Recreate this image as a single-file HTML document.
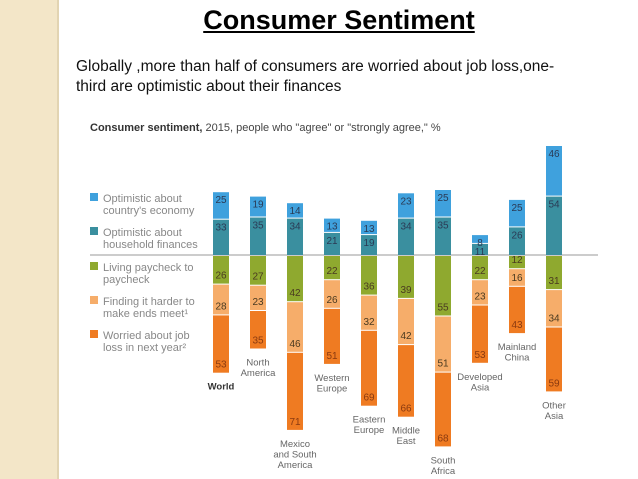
<!DOCTYPE html>
<html><head><meta charset="utf-8"><style>
body{margin:0;width:638px;height:479px;overflow:hidden;background:#fff;font-family:"Liberation Sans",Arial,sans-serif;position:relative}
#strip{position:absolute;left:0;top:0;width:57px;height:479px;background:#f3e6c8;border-right:2px solid #e2d4b2}
#title{position:absolute;left:0;width:562px;left:58px;top:5px;text-align:center;font-weight:bold;font-size:27px;text-decoration:underline;color:#000}
#sub{position:absolute;left:76px;top:57px;font-size:15.5px;line-height:20px;color:#111;width:540px}
svg{position:absolute;left:0;top:0}
</style></head><body>
<div id="strip"></div>
<div id="title">Consumer Sentiment</div>
<div id="sub">Globally ,more than half of consumers are worried about job loss,one-<br>third are optimistic about their finances</div>
<svg id="chart" width="638" height="479" font-family="Liberation Sans, Arial, sans-serif">
<text x="90" y="131" font-size="11" fill="#444"><tspan font-weight="bold" fill="#333">Consumer sentiment,</tspan> 2015, people who "agree" or "strongly agree," %</text>
<line x1="90" y1="255" x2="598" y2="255" stroke="#999" stroke-width="1"/>
<g id="legend"></g><g id="bars"></g>
</svg>
<script>
const categories=[["World"],["North","America"],["Mexico","and South","America"],["Western","Europe"],["Eastern","Europe"],["Middle","East"],["South","Africa"],["Developed","Asia"],["Mainland","China"],["Other","Asia"]];
const countryEconomy=[25,19,14,13,13,23,25,8,25,46];
const householdFinances=[33,35,34,21,19,34,35,11,26,54];
const paycheck=[26,27,42,22,36,39,55,22,12,31];
const endsMeet=[28,23,46,26,32,42,51,23,16,34];
const jobLoss=[53,35,71,51,69,66,68,53,43,59];
const legendLabels=[["Optimistic about","country's economy"],["Optimistic about","household finances"],["Living paycheck to","paycheck"],["Finding it harder to","make ends meet¹"],["Worried about job","loss in next year²"]];
const colors=["#3fa1dd","#3a8f9f","#8fa92f","#f6ad6a","#ef7b22"];
const NS="http://www.w3.org/2000/svg";
const base=255,k=1.1,x0=221,step=37,bw=16;
const X=i=>x0+i*step, H=v=>v*k;
function mk(t,a,p){const e=document.createElementNS(NS,t);for(const n in a)e.setAttribute(n,a[n]);p.appendChild(e);return e;}
const leg=document.getElementById('legend');
const ly=[198,232,267,301,335];
legendLabels.forEach((l,i)=>{
 const r=mk('rect',{x:90,y:ly[i]-5,width:8,height:8,fill:colors[i]},leg);
 
 
 l.forEach((s,j)=>{const t=mk('text',{x:103,y:ly[i]+4+j*12,'font-size':11,fill:'#888'},leg);t.textContent=s;
 
 });
});
const bars=document.getElementById('bars');
categories.forEach((c,i)=>{
 const cx=X(i),x=cx-bw/2;
 const up=[[householdFinances[i],1],[countryEconomy[i],0]];
 let y=base;
 up.forEach(([v,ci])=>{const h=H(v);y-=h;
  const r=mk('rect',{x:x,y:y+1,width:bw,height:h-1,fill:colors[ci]},bars);
  
  
  const t=mk('text',{x:cx,y:y+12,'font-size':10,'text-anchor':'middle',fill:'#2a3a55'},bars);t.textContent=v;
  
  });
 const dn=[[paycheck[i],2],[endsMeet[i],3],[jobLoss[i],4]];
 y=base;
 dn.forEach(([v,ci])=>{const h=H(v);
  const r=mk('rect',{x:x,y:y+1,width:bw,height:h-1,fill:colors[ci]},bars);
  
  
  y+=h;
  const t=mk('text',{x:cx,y:y-5,'font-size':10,'text-anchor':'middle',fill:ci==4?'#8a3a10':'#4a3a20'},bars);t.textContent=v;
  
  });
 c.forEach((s,j)=>{const t=mk('text',{x:cx,y:y+17+j*10.5,'font-size':9.5,'text-anchor':'middle',fill:i==0?'#333':'#666','font-weight':i==0?'bold':'normal'},bars);t.textContent=s;
  
  });
});
</script>
</body></html>
